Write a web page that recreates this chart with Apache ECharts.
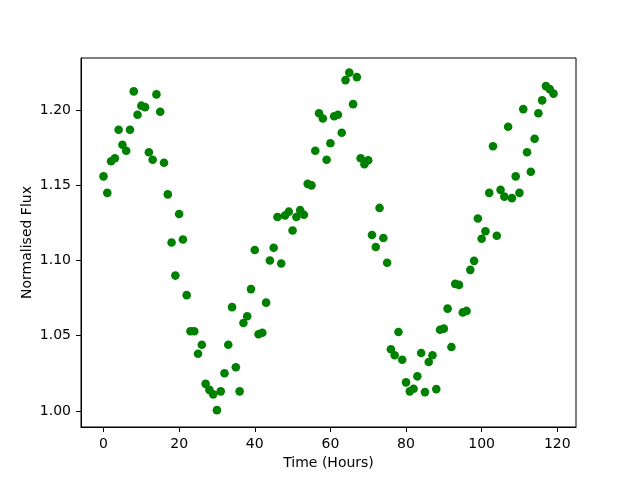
<!DOCTYPE html>
<html>
<head>
<meta charset="utf-8">
<script src="https://cdn.jsdelivr.net/npm/echarts@6/dist/echarts.min.js"></script>
<style>html,body{margin:0;padding:0;background:#fff}#c{width:640px;height:480px}</style>
</head>
<body>
<div id="c"></div>
<script>
const hours = [];
for (let i = 0; i < 120; i++) hours.push(i);
const flux = [
  1.156, 1.145, 1.166, 1.168, 1.187, 1.177, 1.173, 1.187, 1.2125, 1.197,
  1.203, 1.202, 1.172, 1.167, 1.2105, 1.199, 1.165, 1.144, 1.112, 1.090,
  1.131, 1.114, 1.077, 1.053, 1.053, 1.038, 1.044, 1.018, 1.014, 1.011,
  1.0005, 1.013, 1.025, 1.044, 1.069, 1.029, 1.013, 1.0585, 1.063, 1.081,
  1.107, 1.051, 1.052, 1.072, 1.100, 1.1085, 1.129, 1.098, 1.130, 1.1325,
  1.120, 1.129, 1.1335, 1.1305, 1.151, 1.150, 1.173, 1.198, 1.1945, 1.167,
  1.178, 1.196, 1.197, 1.185, 1.220, 1.225, 1.204, 1.222, 1.168, 1.164,
  1.1667, 1.117, 1.109, 1.135, 1.115, 1.0985, 1.041, 1.037, 1.0525, 1.034,
  1.019, 1.013, 1.0147, 1.023, 1.0385, 1.0125, 1.0325, 1.037, 1.0145, 1.054,
  1.0547, 1.068, 1.0425, 1.0845, 1.0838, 1.0655, 1.0665, 1.0938, 1.0998, 1.128,
  1.1145, 1.1195, 1.145, 1.176, 1.1165, 1.147, 1.1425, 1.189, 1.1415, 1.156,
  1.145, 1.2007, 1.172, 1.159, 1.181, 1.198, 1.2065, 1.216, 1.214, 1.211
];
const xTicks = [0, 20, 40, 60, 80, 100, 120];
const yTicks = [1.00, 1.05, 1.10, 1.15, 1.20];

const points = hours.map((h, i) => [h, flux[i]]);
const font = 'DejaVu Sans';
const chart = echarts.init(document.getElementById('c'), null, {renderer: 'canvas'});
chart.setOption({
  animation: false,
  backgroundColor: '#ffffff',
  grid: {left: 81, right: 64, top: 58, bottom: 53, show: true, borderColor: '#000', borderWidth: 1, backgroundColor: 'transparent'},
  xAxis: {
    type: 'value', min: -5.95, max: 124.95,
    name: 'Time (Hours)', nameLocation: 'middle', nameGap: 29, nameMoveOverlap: false,
    nameTextStyle: {fontFamily: font, fontSize: 14, color: '#000'},
    axisLine: {show: true, onZero: false, lineStyle: {color: '#000', width: 1}},
    axisTick: {show: true, length: 5, customValues: xTicks, lineStyle: {color: '#000'}},
    axisLabel: {customValues: xTicks, margin: 10, fontFamily: font, fontSize: 14, color: '#000'},
    splitLine: {show: false}
  },
  yAxis: {
    type: 'value', min: 0.9893, max: 1.2347,
    name: 'Normalised Flux', nameLocation: 'middle', nameGap: 47, nameMoveOverlap: false,
    nameTextStyle: {fontFamily: font, fontSize: 14, color: '#000'},
    axisLine: {show: true, onZero: false, lineStyle: {color: '#000', width: 1}},
    axisTick: {show: true, length: 5, customValues: yTicks, lineStyle: {color: '#000'}},
    axisLabel: {customValues: yTicks, margin: 10, fontFamily: font, fontSize: 14, color: '#000',
      formatter: v => v.toFixed(2)},
    splitLine: {show: false}
  },
  series: [{
    type: 'scatter',
    data: points,
    symbol: 'circle',
    symbolSize: 8.6,
    itemStyle: {color: '#008000', opacity: 1}
  }]
});
</script>
</body>
</html>
